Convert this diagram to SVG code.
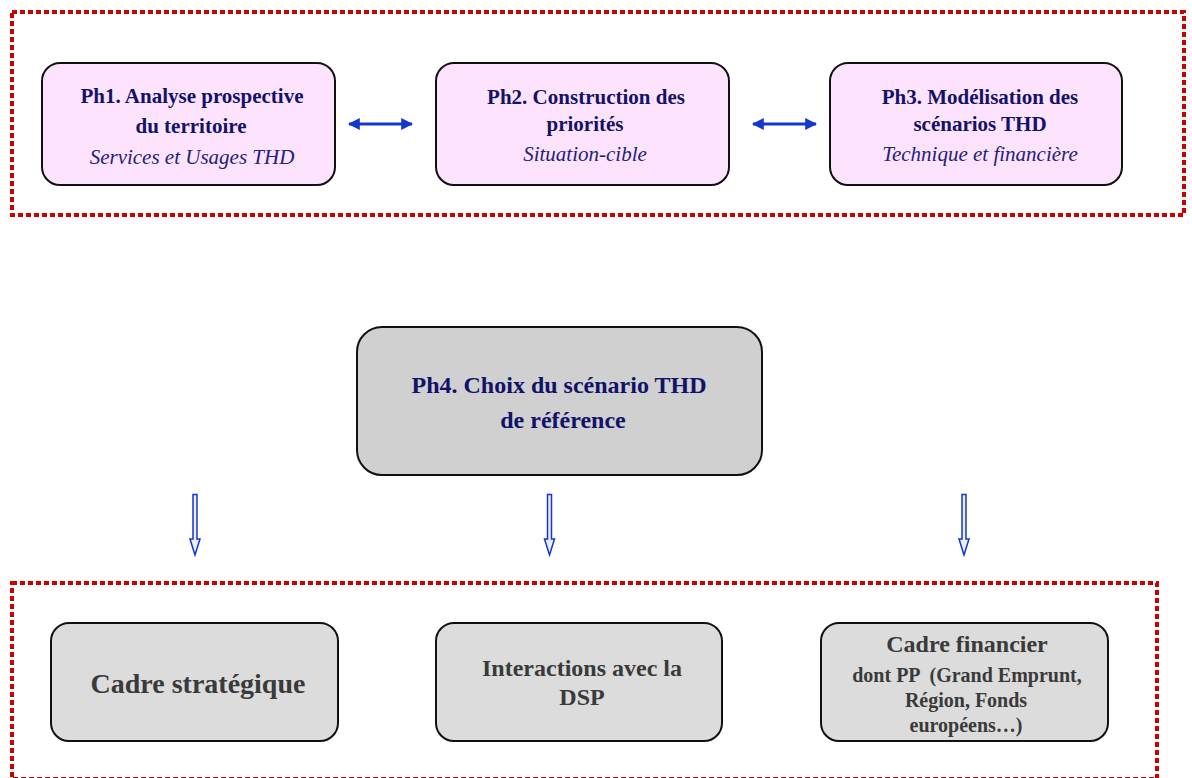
<svg xmlns="http://www.w3.org/2000/svg" width="1192" height="778" viewBox="0 0 1192 778">
<style>
.frame{fill:none;stroke:#cc0000;stroke-width:4;stroke-dasharray:5 3}
.pink{fill:#fde3fd;stroke:#111;stroke-width:2}
.gray{fill:#d0d0d0;stroke:#111;stroke-width:2}
.lgray{fill:#dcdcdc;stroke:#111;stroke-width:2}
text{font-family:"Liberation Serif","Times New Roman",Times,"DejaVu Serif",serif;text-anchor:middle}
.t{font-weight:bold;fill:#12126a}
.i{font-style:italic;fill:#22227a;font-size:21px}
.g{font-weight:bold;fill:#3a3a3a}
.dbl{stroke:#1238cc;stroke-width:3;fill:none}
.blk{fill:#ececec;stroke:#1238cc;stroke-width:1.5}
</style>
<defs>
<marker id="ah" viewBox="0 0 10 10" refX="9" refY="5" markerWidth="4" markerHeight="4" orient="auto-start-reverse">
<path d="M0,0 L10,5 L0,10 Z" fill="#1238cc"/>
</marker>
</defs>
<rect class="frame" x="12" y="12" width="1172" height="203"/>
<rect class="frame" x="12" y="583" width="1145" height="196"/>
<g id="ph1">
<rect class="pink" x="42" y="63" width="293" height="122" rx="18"/>
<text class="t" x="192" y="103" font-size="21">Ph1. Analyse prospective</text>
<text class="t" x="191" y="133" font-size="21">du territoire</text>
<text class="i" x="192" y="164">Services et Usages THD</text>
</g>
<g id="ph2">
<rect class="pink" x="436" y="63" width="293" height="122" rx="18"/>
<text class="t" x="586" y="104" font-size="21">Ph2. Construction des</text>
<text class="t" x="585" y="131" font-size="21">priorités</text>
<text class="i" x="585" y="161">Situation-cible</text>
</g>
<g id="ph3">
<rect class="pink" x="830" y="63" width="292" height="122" rx="18"/>
<text class="t" x="980" y="104" font-size="21">Ph3. Modélisation des</text>
<text class="t" x="980" y="131" font-size="21">scénarios THD</text>
<text class="i" x="980" y="161">Technique et financière</text>
</g>
<g id="ph4">
<rect class="gray" x="357" y="327" width="405" height="148" rx="25"/>
<text class="t" x="559" y="393" font-size="24">Ph4. Choix du scénario THD</text>
<text class="t" x="563" y="428" font-size="24">de référence</text>
</g>
<g id="cadre-strategique">
<rect class="lgray" x="51" y="623" width="287" height="118" rx="18"/>
<text class="g" x="198" y="693" font-size="28">Cadre stratégique</text>
</g>
<g id="interactions">
<rect class="lgray" x="436" y="623" width="286" height="118" rx="18"/>
<text class="g" x="582" y="676" font-size="24">Interactions avec la</text>
<text class="g" x="582" y="705" font-size="24">DSP</text>
</g>
<g id="cadre-financier">
<rect class="lgray" x="821" y="623" width="287" height="118" rx="18"/>
<text class="g" x="967" y="652" font-size="24">Cadre financier</text>
<text class="g" x="967" y="682" font-size="20" xml:space="preserve">dont PP  (Grand Emprunt,</text>
<text class="g" x="966" y="707" font-size="20">Région, Fonds</text>
<text class="g" x="966" y="732" font-size="20">européens…)</text>
</g>
<g id="connectors">
<line class="dbl" x1="349" y1="124" x2="412" y2="124" marker-start="url(#ah)" marker-end="url(#ah)"/>
<line class="dbl" x1="753" y1="124" x2="816" y2="124" marker-start="url(#ah)" marker-end="url(#ah)"/>
<path class="blk" d="M193,494.5 H197 V539 H200 L195,555 L190,539 H193 Z"/>
<path class="blk" d="M547.5,494.5 H551.5 V539 H554.5 L549.5,555 L544.5,539 H547.5 Z"/>
<path class="blk" d="M962,494.5 H966 V539 H969 L964,555 L959,539 H962 Z"/>
</g>
</svg>
